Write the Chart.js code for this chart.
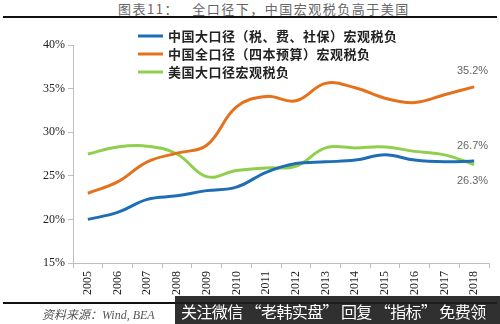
<!DOCTYPE html>
<html>
<head>
<meta charset="utf-8">
<script src="https://cdn.jsdelivr.net/npm/chart.js@4"></script>
<style>
  body { margin: 0; background: #fff; }
  #wrap { position: relative; width: 500px; height: 324px; overflow: hidden; }
  #chart { position: absolute; left: 0; top: 0; }
  .title { position: absolute; top: 2px; left: 118px; font: 13px "Noto Sans CJK SC", sans-serif; line-height: 13px;
           letter-spacing: 1.5px; color: #666; white-space: pre; }
  .rule { position: absolute; left: 3px; height: 2px; background: #111; }
  .source { position: absolute; left: 42px; top: 305px; font: italic 12px "Liberation Serif", "Noto Sans CJK SC", serif; color: #555; white-space: pre; }
  .wm { position: absolute; left: 175px; top: 296px; width: 330px; height: 30px; background: rgba(30,30,30,0.92);
        color: #fff; font: 16px "Noto Sans CJK SC", sans-serif; line-height: 30px; padding-left: 6px;
        letter-spacing: -0.6px; white-space: pre; }
</style>
</head>
<body>
<div id="wrap">
  <div class="title">图表11：   全口径下，中国宏观税负高于美国</div>
  <div class="rule" style="top:16px;width:494px;"></div>
  <canvas id="chart" width="500" height="324"></canvas>
  <div class="rule" style="top:302px;width:494px;"></div>
  <div class="source">资料来源：Wind, BEA</div>
  <div class="wm">关注微信 “老韩实盘” 回复 “指标” 免费领</div>
</div>
<script>
const years = ['2005','2006','2007','2008','2009','2010','2011','2012','2013','2014','2015','2016','2017','2018'];
const chinaBroad = [20.0, 20.8, 22.3, 22.7, 23.3, 23.7, 25.4, 26.4, 26.6, 26.8, 27.4, 26.8, 26.6, 26.7];
const chinaFull  = [23.0, 24.3, 26.6, 27.6, 28.5, 32.9, 34.1, 33.6, 35.6, 35.1, 33.9, 33.4, 34.3, 35.2];
const usBroad    = [27.5, 28.3, 28.4, 27.5, 24.9, 25.6, 25.9, 26.1, 28.2, 28.2, 28.3, 27.8, 27.4, 26.3];
const seriesNames = ['中国大口径（税、费、社保）宏观税负', '中国全口径（四本预算）宏观税负', '美国大口径宏观税负'];
const yTicks = [15, 20, 25, 30, 35, 40];

const colors = ['#1f6db5', '#e4721d', '#8fcf4c'];

// legend in the upper part of the plot, plus end-of-line value labels
const overlay = {
  id: 'overlay',
  afterDatasetsDraw(chart) {
    const ctx = chart.ctx;
    ctx.save();
    seriesNames.forEach((name, i) => {
      const y = 36 + i * 18;
      ctx.strokeStyle = colors[i];
      ctx.lineWidth = 3;
      ctx.beginPath();
      ctx.moveTo(138, y);
      ctx.lineTo(163, y);
      ctx.stroke();
      ctx.fillStyle = '#222';
      ctx.font = 'bold 13px "Noto Sans CJK SC", sans-serif';
      ctx.letterSpacing = '0.5px';
      ctx.textBaseline = 'middle';
      ctx.textAlign = 'left';
      ctx.fillText(name, 168, y);
    });
    ctx.letterSpacing = '0px';
    const offsets = [-15, -16, 17];
    ctx.font = '11px "Liberation Sans", sans-serif';
    ctx.fillStyle = '#666';
    ctx.textAlign = 'right';
    ctx.textBaseline = 'middle';
    chart.data.datasets.forEach((ds, i) => {
      const meta = chart.getDatasetMeta(i);
      const last = meta.data[meta.data.length - 1];
      const v = ds.data[ds.data.length - 1];
      ctx.fillText(v.toFixed(1) + '%', last.x + 14, last.y + offsets[i]);
    });
    ctx.restore();
  }
};

const mk = (label, data, i) => ({
  label, data,
  borderColor: colors[i],
  borderWidth: 3,
  pointRadius: 0,
  tension: 0.4,
  fill: false
});

new Chart(document.getElementById('chart'), {
  type: 'line',
  data: {
    labels: years,
    datasets: [
      mk(seriesNames[0], chinaBroad, 0),
      mk(seriesNames[1], chinaFull, 1),
      mk(seriesNames[2], usBroad, 2)
    ]
  },
  options: {
    responsive: false,
    animation: false,
    layout: { padding: { top: 45, right: 11, left: 0, bottom: 21 } },
    plugins: { legend: { display: false }, tooltip: { enabled: false } },
    scales: {
      x: {
        offset: true,
        grid: { offset: true, drawOnChartArea: false, color: '#bfbfbf', tickLength: 5 },
        border: { color: '#bfbfbf' },
        ticks: {
          minRotation: 90, maxRotation: 90, autoSkip: false,
          color: '#222', font: { family: '"Liberation Serif", serif', size: 12 }
        },
        afterFit(scale) { scale.height = 40; }
      },
      y: {
        min: 15, max: 40,
        afterBuildTicks(scale) { scale.ticks = yTicks.map(v => ({ value: v })); },
        grid: { drawOnChartArea: false, color: '#bfbfbf', tickLength: 5 },
        border: { color: '#bfbfbf' },
        ticks: {
          color: '#222', padding: 3,
          font: { family: '"Liberation Serif", serif', size: 12 },
          callback: v => v + '%'
        },
        afterFit(scale) { scale.width = 73; }
      }
    }
  },
  plugins: [overlay]
});
</script>
</body>
</html>
